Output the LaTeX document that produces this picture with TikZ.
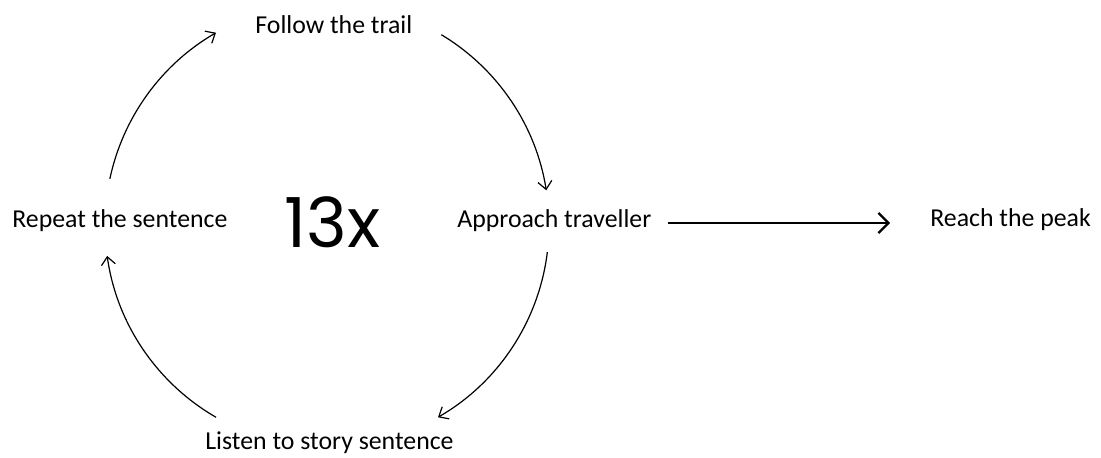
\documentclass[tikz,border=0pt]{standalone}
\usepackage{fontspec}
\setmainfont{Carlito}
\newfontfamily\countfont{Poppins}
\usetikzlibrary{arrows.meta,positioning}

\begin{document}
\begin{tikzpicture}[x=0.5pt, y=0.5pt,
    lbl/.style={inner sep=0pt, anchor=base west, font=\fontsize{12.9}{15}\selectfont},
    cyc/.style={-{Straight Barb[length=4pt, width=7pt]}, line width=0.6pt},
    exitarrow/.style={-{Straight Barb[length=5pt, width=10pt]}, line width=1.1pt}]
    \useasboundingbox (0,0) rectangle (1101,457);
    % the four steps round the loop
    \node[lbl] (follow)   at (255, 424) {Follow the trail};
    \node[lbl] (repeat)   at (12, 230)  {Repeat the sentence};
    \node[lbl] (approach) at (457, 230) {Approach traveller};
    \node[lbl] (listen)   at (205, 8)   {Listen to story sentence};
    \node[lbl] (peak)     at (930, 231) {Reach the peak};
    % repeat count in the middle
    \node[inner sep=0pt, anchor=base west, font=\countfont\fontsize{34.5}{40}\selectfont]
      (count) at (284, 210) {13x};
    \coordinate (hub) at (327, 232);
    % arcs of the loop
    \draw[cyc] ([shift={(168:222)}]hub) arc[start angle=168, end angle=120, radius=222];
    \draw[cyc] ([shift={(59:222)}]hub) arc[start angle=59, end angle=9, radius=222];
    \draw[cyc] ([shift={(-7:222)}]hub) arc[start angle=-7, end angle=-60, radius=222];
    \draw[cyc] ([shift={(-120:222)}]hub) arc[start angle=-120, end angle=-172, radius=222];
    % leaving the loop
    \draw[exitarrow, shorten <=8pt, shorten >=20pt] ([yshift=2pt]approach.base east) -- ([yshift=2pt]approach.base east -| peak.west);
\end{tikzpicture}
\end{document}
